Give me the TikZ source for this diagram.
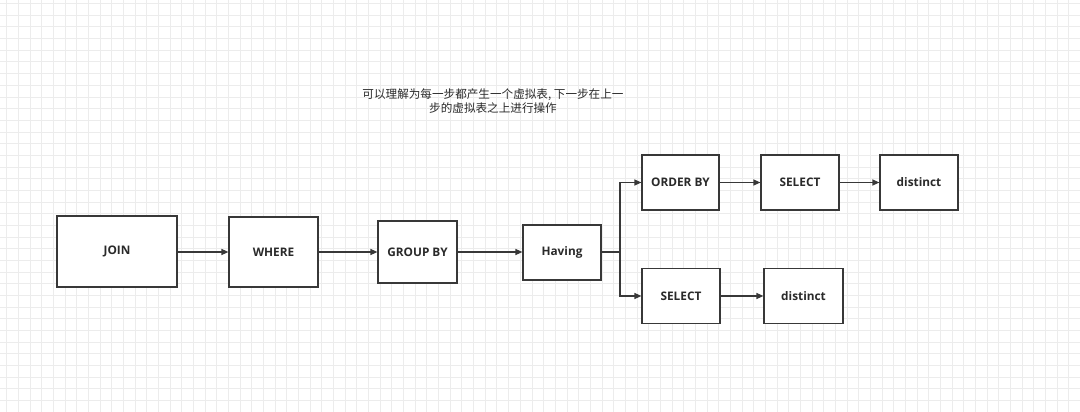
\documentclass[tikz,border=0pt]{standalone}
\usepackage{fontspec}
\setmainfont{Open Sans}
\newfontfamily\cjk{Noto Sans CJK SC}
\usetikzlibrary{arrows.meta}
\definecolor{linec}{HTML}{383838}
\definecolor{textc}{HTML}{2A2A2A}
\definecolor{gridc}{HTML}{ECECEC}
\tikzset{
  box/.style={draw=linec, line width=1.2pt, fill=white, inner sep=0pt, font=\fontsize{11.8}{14}\selectfont\bfseries, text=textc},
  conn/.style={draw=linec, line width=1.2pt, -{Triangle[length=7pt,width=6pt]}},
}
\begin{document}
\begin{tikzpicture}[x=1pt,y=-1pt]
\useasboundingbox (0,0) rectangle (1080,412);
\fill[white] (0,0) rectangle (1080,412);
\foreach \i in {0,...,92} {
  \draw[gridc, line width=0.7pt] ({6.7+11.67*\i},0) -- ({6.7+11.67*\i},412);
}
\foreach \j in {0,...,35} {
  \draw[gridc, line width=0.7pt] (0,{3.5+11.67*\j}) -- (1080,{3.5+11.67*\j});
}
\node[text=textc, align=center, font=\cjk\fontsize{11.6}{14.5}\selectfont] (note) at (493,101) {可以理解为每一步都产生一个虚拟表, 下一步在上一\\步的虚拟表之上进行操作};
\node[box, minimum width=120pt, minimum height=71pt] (join) at (117,251.5) {JOIN};
\node[box, minimum width=89pt, minimum height=70pt] (where) at (273.5,252) {WHERE};
\node[box, minimum width=79pt, minimum height=62pt] (group) at (417.5,252) {GROUP BY};
\node[box, minimum width=78pt, minimum height=55pt] (having) at (562,252.5) {Having};
\node[box, minimum width=77pt, minimum height=55pt] (order) at (680.5,182.5) {ORDER BY};
\node[box, minimum width=78pt, minimum height=55pt] (sel1) at (800,182.5) {SELECT};
\node[box, minimum width=78pt, minimum height=55pt] (dist1) at (919,182.5) {distinct};
\node[box, minimum width=78pt, minimum height=55pt] (sel2) at (681,296) {SELECT};
\node[box, minimum width=79pt, minimum height=55pt] (dist2) at (803.5,296) {distinct};
\coordinate (jn) at (620,252);
\draw[conn] (join.east |- where.west) -- (where.west);
\draw[conn] (where.east) -- (group.west);
\draw[conn] (group.east) -- (having.west |- group.east);
\draw[conn] (having.east |- jn) -- (jn) |- (order.west);
\draw[conn] (jn) |- (sel2.west);
\draw[conn] (order.east) -- (sel1.west);
\draw[conn] (sel1.east) -- (dist1.west);
\draw[conn] (sel2.east) -- (dist2.west);
\end{tikzpicture}
\end{document}
